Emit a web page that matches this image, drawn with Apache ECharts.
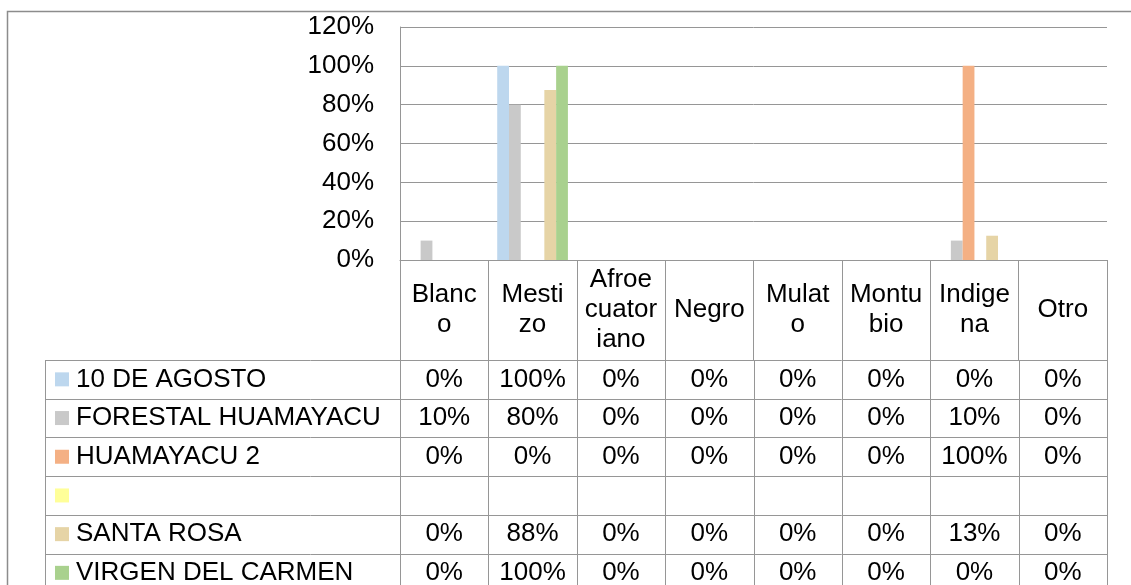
<!DOCTYPE html>
<html>
<head>
<meta charset="utf-8">
<script src="https://cdn.jsdelivr.net/npm/echarts@6/dist/echarts.min.js"></script>
<style>
  html, body { margin: 0; padding: 0; background: #fff; }
  #chart { width: 1131px; height: 585px; }
</style>
</head>
<body>
<div id="chart"></div>
<script>
// categories as they wrap in the header cells
const categories = ["Blanc\no", "Mesti\nzo", "Afroe\ncuator\niano", "Negro", "Mulat\no", "Montu\nbio", "Indige\nna", "Otro"];

const seriesNames = ["10 DE AGOSTO", "FORESTAL HUAMAYACU", "HUAMAYACU 2", "", "SANTA ROSA", "VIRGEN DEL CARMEN"];
const seriesColors = ["#bdd7ee", "#c9c9c9", "#f4b084", "#ffff99", "#e6d4a6", "#a9d18e"];

const agosto = [0, 1, 0, 0, 0, 0, 0, 0];
const forestal = [0.1, 0.8, 0, 0, 0, 0, 0.1, 0];
const huamayacu2 = [0, 0, 0, 0, 0, 0, 1, 0];
const blankSeries = [null, null, null, null, null, null, null, null];
const santaRosa = [0, 0.875, 0, 0, 0, 0, 0.125, 0];
const virgen = [0, 1, 0, 0, 0, 0, 0, 0];
const seriesData = [agosto, forestal, huamayacu2, blankSeries, santaRosa, virgen];

const yTicks = [0, 0.2, 0.4, 0.6, 0.8, 1.0, 1.2];

const FONT = "Liberation Sans, Arial, sans-serif";
const FS = 26;
const LINE = "#969696";

const myChart = echarts.init(document.getElementById("chart"));

const option = {
  animation: false,
  grid: { left: 400, right: 24, top: 27, bottom: 325 },
  xAxis: {
    type: "category",
    data: categories,
    axisLine: { show: true, lineStyle: { color: LINE, width: 1 } },
    axisTick: {
      show: true,
      interval: 0,
      length: 100,
      lineStyle: { color: LINE, width: 1 },
    },
    axisLabel: {
      interval: 0,
      margin: 50,
      verticalAlign: "middle",
      lineHeight: 30,
      color: "#000",
      fontSize: FS,
      fontFamily: FONT,
    },
  },
  yAxis: {
    type: "value",
    min: yTicks[0],
    max: yTicks[yTicks.length - 1],
    interval: 0.2,
    axisLine: { show: true, lineStyle: { color: LINE, width: 1 } },
    axisTick: { show: false },
    splitLine: { show: true, lineStyle: { color: LINE, width: 1 } },
    axisLabel: {
      margin: 26,
      color: "#000",
      fontSize: FS,
      fontFamily: FONT,
      formatter: (v) => Math.round(v * 100) + "%",
    },
  },
  series: seriesData.map((d, i) => ({
    name: seriesNames[i],
    type: "bar",
    data: d,
    barGap: 0,
    barCategoryGap: "20%",
    itemStyle: { color: seriesColors[i] },
  })),
};

myChart.setOption(option);

// data table under the plot, laid out from the category axis
function buildTable() {
  const c0 = myChart.convertToPixel({ xAxisIndex: 0 }, 0);
  const c1 = myChart.convertToPixel({ xAxisIndex: 0 }, 1);
  const band = c1 - c0;
  const plotLeft = c0 - band / 2;
  const plotRight = plotLeft + band * categories.length;
  const tableLeft = 45;
  const tableTop = 360;
  const rowH = 38.7;
  const g = [];

  // outer frame of the chart area
  g.push({
    type: "polyline",
    shape: { points: [[7.5, 600], [7.5, 11.5], [1140, 11.5]] },
    style: { stroke: "#8c8c8c", lineWidth: 1.5, fill: null },
    silent: true,
  });

  const rows = seriesNames.length;
  const bottom = tableTop + rowH * rows;
  for (let r = 0; r <= rows; r++) {
    const y = Math.round(tableTop + rowH * r) + 0.5;
    g.push({
      type: "line",
      shape: { x1: tableLeft, y1: y, x2: plotRight, y2: y },
      style: { stroke: LINE, lineWidth: 1 },
      silent: true,
    });
  }
  const vx = [tableLeft];
  for (let k = 0; k <= categories.length; k++) vx.push(plotLeft + band * k);
  vx.forEach((x) => {
    g.push({
      type: "line",
      shape: { x1: Math.round(x) + 0.5, y1: tableTop, x2: Math.round(x) + 0.5, y2: bottom },
      style: { stroke: LINE, lineWidth: 1 },
      silent: true,
    });
  });

  seriesNames.forEach((name, r) => {
    const cy = tableTop + rowH * r + rowH / 2;
    g.push({
      type: "rect",
      shape: { x: 55, y: cy - 7, width: 14, height: 14 },
      style: { fill: seriesColors[r] },
      silent: true,
    });
    g.push({
      type: "text",
      x: 76,
      y: cy,
      style: {
        text: name,
        font: FS + "px " + FONT,
        fill: "#000",
        textAlign: "left",
        textVerticalAlign: "middle",
      },
      silent: true,
    });
    seriesData[r].forEach((v, k) => {
      if (v === null) return;
      g.push({
        type: "text",
        x: myChart.convertToPixel({ xAxisIndex: 0 }, k),
        y: cy,
        style: {
          text: Math.round(v * 100) + "%",
          font: FS + "px " + FONT,
          fill: "#000",
          textAlign: "center",
          textVerticalAlign: "middle",
        },
        silent: true,
      });
    });
  });

  myChart.setOption({ graphic: { elements: g } });
}

buildTable();
</script>
</body>
</html>
